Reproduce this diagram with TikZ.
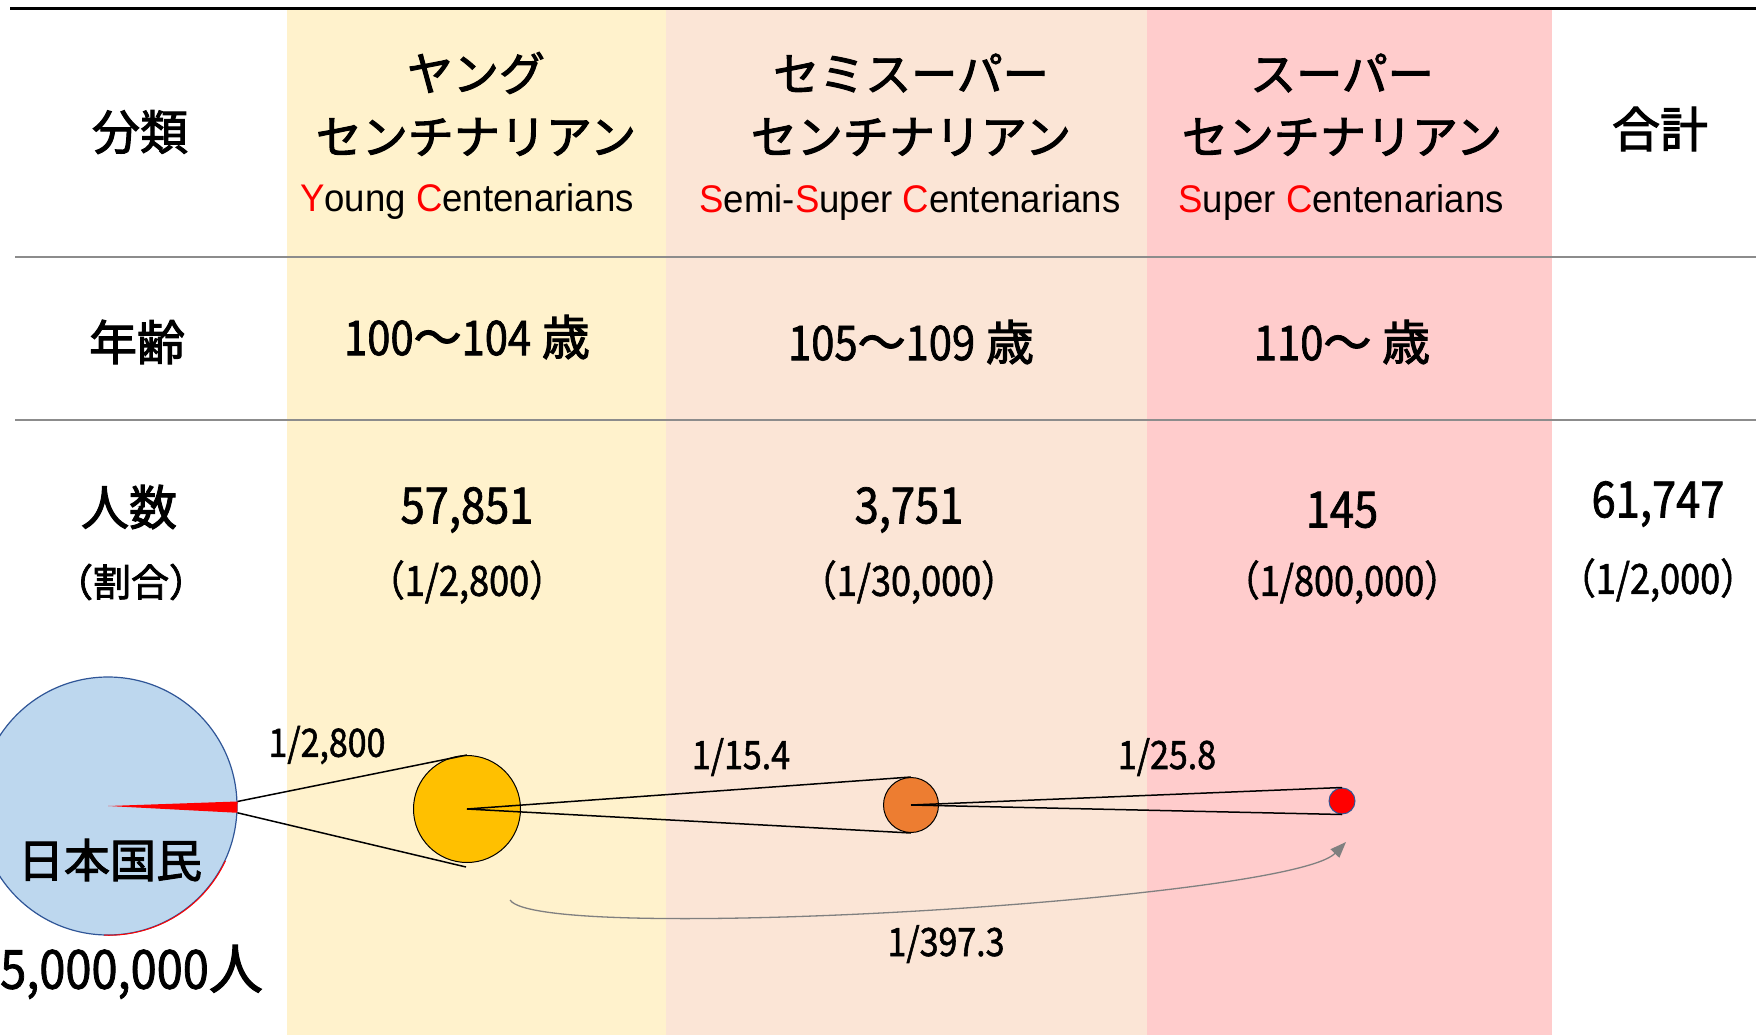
\documentclass[tikz,border=0pt]{standalone}
\usepackage{fontspec}
\setmainfont{Noto Sans CJK JP}[FakeBold=2.2]
\newfontfamily\numf{Noto Sans CJK JP}[FakeStretch=0.87,FakeBold=1.4]
\newfontfamily\enf{Liberation Sans}[FakeStretch=0.95]
\usetikzlibrary{arrows.meta}
\definecolor{colY}{HTML}{FFF2CC}
\definecolor{colP}{HTML}{FBE5D6}
\definecolor{colR}{HTML}{FFCCCC}
\definecolor{rulegray}{HTML}{8C8C8C}
\definecolor{jpblue}{HTML}{BDD7EE}
\definecolor{jpedge}{HTML}{2F5597}
\definecolor{ycirc}{HTML}{FFC000}
\definecolor{ocirc}{HTML}{ED7D31}
\begin{document}
\begin{tikzpicture}[x=1pt,y=-1pt,
  txt/.style={inner sep=0pt, anchor=center},
  kata/.style={txt, font=\fontsize{46}{50}\selectfont},
  lab/.style={txt, font=\fontsize{48}{52}\selectfont},
  eng/.style={txt, font=\enf\fontsize{38.5}{42}\selectfont},
  agefont/.style={txt, font=\fontsize{48}{52}\selectfont},
  num/.style={txt, font=\numf\fontsize{50}{54}\selectfont},
  ratio/.style={txt, font=\numf\fontsize{41.5}{44}\selectfont},
  small/.style={txt, font=\numf\fontsize{39}{44}\selectfont},
  cone/.style={line width=1.5pt, black},
  rulestyle/.style={line width=2.5pt, rulegray}
]
\useasboundingbox (0,0) rectangle (1756,1035);
\clip (0,0) rectangle (1756,1035);
\fill[white] (0,0) rectangle (1756,1035);
% columns
\fill[colY] (287,10) rectangle (666,1035);
\fill[colP] (666,10) rectangle (1147,1035);
\fill[colR] (1147,10) rectangle (1552,1035);
% rules
\coordinate (t1) at (10,9); \coordinate (t2) at (1756,9);
\coordinate (r1a) at (15,257); \coordinate (r1b) at (1756,257);
\coordinate (r2a) at (15,420); \coordinate (r2b) at (1756,420);
\draw[line width=3pt, black] (t1) -- (t2);
\draw[rulestyle] (r1a) -- (r1b);
\draw[rulestyle] (r2a) -- (r2b);
% header row
\node[lab] (bunrui) at (140,132) {分類};
\node[kata] (y1) at (476,73) {ヤング};
\node[kata] (y2) at (476,137) {センチナリアン};
\node[eng] (y3) at (467,202) {\textcolor{red}{Y}oung \textcolor{red}{C}entenarians};
\node[kata] (s1) at (911,73) {セミスーパー};
\node[kata] (s2) at (911,137) {センチナリアン};
\node[eng] (s3) at (910,203) {\textcolor{red}{S}emi-\textcolor{red}{S}uper \textcolor{red}{C}entenarians};
\node[kata] (p1) at (1342,73) {スーパー};
\node[kata] (p2) at (1342,137) {センチナリアン};
\node[eng] (p3) at (1341,203) {\textcolor{red}{S}uper \textcolor{red}{C}entenarians};
\node[lab] (goukei) at (1660,129) {合計};
% age row
\node[lab] (nenrei) at (137,342) {年齢};
\node[agefont] (a1) at (467,337) {{\numf 100}～{\numf 104} 歳};
\node[agefont] (a2) at (911,342) {{\numf 105}～{\numf 109} 歳};
\node[agefont] (a3) at (1342,342) {{\numf 110}～ 歳};
% count row
\node[lab] (ninzu) at (129,507) {人数};
\node[txt, font=\fontsize{38}{42}\selectfont] (wariai) at (131,582) {（割合）};
\node[num] (n1) at (467,510) {57,851};
\node[ratio] (q1) at (467,582) {（1/2,800）};
\node[num] (n2) at (909,510) {3,751};
\node[ratio] (q2) at (909,582) {（1/30,000）};
\node[num] (n3) at (1342,510) {145};
\node[ratio] (q3) at (1342,582) {（1/800,000）};
\node[num] (n4) at (1658,504) {61,747};
\node[ratio] (q4) at (1658,580) {（1/2,000）};
% lower diagram
\node[circle, minimum size=258pt, inner sep=0pt, fill=jpblue, draw=jpedge, line width=1.2pt] (jp) at (108,806) {};
\draw[red, line width=1pt] (jp.-25) arc[start angle=25, end angle=92, radius=129];
\fill[red] (jp.center) -- (jp.2.5) -- (jp.-3) -- cycle;
\node[txt, font=\fontsize{46}{50}\selectfont] (kokumin) at (110,860) {日本国民};
\node[txt, anchor=west, font=\fontsize{54}{58}\selectfont] (pop) at (0,972) {{\numf 5,000,000}人};
\node[circle, minimum size=107pt, inner sep=0pt, fill=ycirc, draw=black, line width=1pt] (yc) at (467,809) {};
\node[circle, minimum size=55pt, inner sep=0pt, fill=ocirc, draw=black, line width=1pt] (oc) at (911,805) {};
\node[circle, minimum size=26pt, inner sep=0pt, fill=red, draw=jpedge, line width=1pt] (rc) at (1342,801) {};
\coordinate (ylow) at (466,867);
\draw[cone] (jp.2.5) -- (yc.north);
\draw[cone] (jp.-3) -- (ylow);
\draw[cone] (yc.center) -- (oc.north);
\draw[cone] (yc.center) -- (oc.south);
\draw[cone] (oc.center) -- (rc.north);
\draw[cone] (oc.center) -- (rc.south);
\node[small] (l1) at (327,745) {1/2,800};
\node[small] (l2) at (741,757) {1/15.4};
\node[small] (l3) at (1167,757) {1/25.8};
\node[small] (l4) at (946,944) {1/397.3};
\coordinate (cstart) at (510,900);
\coordinate (cend) at (1346,842);
\draw[gray, line width=1.3pt, -{Triangle[length=16pt,width=12pt]}] (cstart) .. controls (540,945) and (1290,900) .. (cend);
\end{tikzpicture}
\end{document}
